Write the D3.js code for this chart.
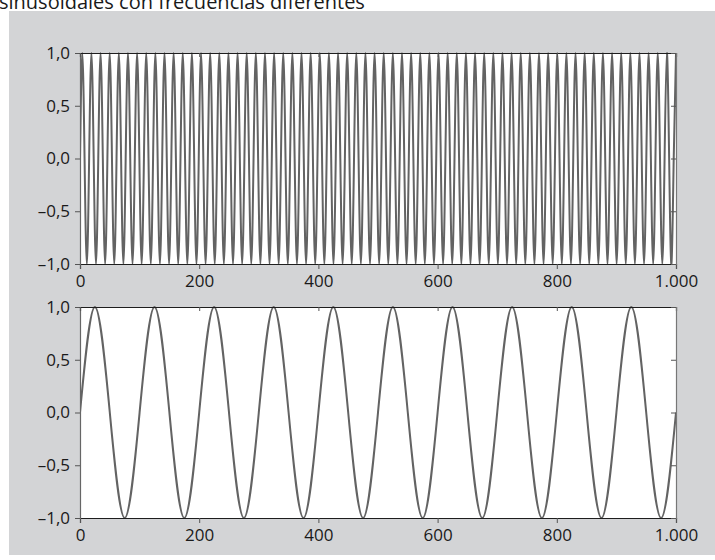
<!DOCTYPE html>
<html>
<head>
<meta charset="utf-8">
<script src="https://cdn.jsdelivr.net/npm/d3@7"></script>
<style>
  html, body { margin: 0; padding: 0; background: #ffffff; }
  svg { display: block; }
  text { font-family: "Open Sans", "Noto Sans", sans-serif; fill: #1a1a1a; }
</style>
</head>
<body>
<svg id="chart" width="715" height="560"></svg>
<script>
// Signal values at quarter-period nodes, spread evenly over samples 0..1000.
// Fast signal: 65¼ cycles.
const topWave = [
  0, 1, 0, -1, 0, 1, 0, -1, 0, 1, 0, -1, 0, 1, 0, -1, 0, 1, 0, -1,
  0, 1, 0, -1, 0, 1, 0, -1, 0, 1, 0, -1, 0, 1, 0, -1, 0, 1, 0, -1,
  0, 1, 0, -1, 0, 1, 0, -1, 0, 1, 0, -1, 0, 1, 0, -1, 0, 1, 0, -1,
  0, 1, 0, -1, 0, 1, 0, -1, 0, 1, 0, -1, 0, 1, 0, -1, 0, 1, 0, -1,
  0, 1, 0, -1, 0, 1, 0, -1, 0, 1, 0, -1, 0, 1, 0, -1, 0, 1, 0, -1,
  0, 1, 0, -1, 0, 1, 0, -1, 0, 1, 0, -1, 0, 1, 0, -1, 0, 1, 0, -1,
  0, 1, 0, -1, 0, 1, 0, -1, 0, 1, 0, -1, 0, 1, 0, -1, 0, 1, 0, -1,
  0, 1, 0, -1, 0, 1, 0, -1, 0, 1, 0, -1, 0, 1, 0, -1, 0, 1, 0, -1,
  0, 1, 0, -1, 0, 1, 0, -1, 0, 1, 0, -1, 0, 1, 0, -1, 0, 1, 0, -1,
  0, 1, 0, -1, 0, 1, 0, -1, 0, 1, 0, -1, 0, 1, 0, -1, 0, 1, 0, -1,
  0, 1, 0, -1, 0, 1, 0, -1, 0, 1, 0, -1, 0, 1, 0, -1, 0, 1, 0, -1,
  0, 1, 0, -1, 0, 1, 0, -1, 0, 1, 0, -1, 0, 1, 0, -1, 0, 1, 0, -1,
  0, 1, 0, -1, 0, 1, 0, -1, 0, 1, 0, -1, 0, 1, 0, -1, 0, 1, 0, -1,
  0, 1
];
// Slow signal: 10 cycles.
const bottomWave = [
  0, 1, 0, -1, 0, 1, 0, -1, 0, 1, 0, -1, 0, 1, 0, -1, 0, 1, 0, -1,
  0, 1, 0, -1, 0, 1, 0, -1, 0, 1, 0, -1, 0, 1, 0, -1, 0, 1, 0, -1,
  0
];
const sampleRange = [0, 1000];
const xTicks = [0, 200, 400, 600, 800, 1000];
const yTicks = [-1, -0.5, 0, 0.5, 1];
const titleText = "sinusoidales con frecuencias diferentes";

const locale = d3.formatLocale({
  decimal: ",", thousands: ".", grouping: [3], currency: ["", " €"], minus: "\u2013"
});
const fmtX = locale.format(",d");
const fmtY = locale.format(".1f");

const svg = d3.select("#chart");

// Caption line, partly above the top edge of the page
svg.append("text")
  .attr("x", -1).attr("y", 9)
  .style("font-size", "20px")
  .text(titleText);

svg.append("rect")
  .attr("x", 9).attr("y", 11).attr("width", 706).attr("height", 544)
  .attr("fill", "#d3d4d6");

const left = 80, right = 676;
const panels = [
  { wave: topWave, top: 53, bottom: 264 },
  { wave: bottomWave, top: 307, bottom: 518 }
];

panels.forEach(p => {
  const x = d3.scaleLinear().domain(sampleRange).range([left, right]);
  const y = d3.scaleLinear().domain([-1, 1]).range([p.bottom, p.top]);
  const nodeX = d3.scaleLinear().domain([0, p.wave.length - 1]).range(sampleRange);

  const g = svg.append("g");

  g.append("rect")
    .attr("x", left).attr("y", p.top)
    .attr("width", right - left).attr("height", p.bottom - p.top)
    .attr("fill", "#ffffff");

  const clipId = "clip" + p.top;
  svg.append("clipPath").attr("id", clipId)
    .append("rect")
    .attr("x", left).attr("y", p.top - 2)
    .attr("width", right - left).attr("height", p.bottom - p.top + 4);

  const line = d3.line()
    .x((d, i) => x(nodeX(i)))
    .y(d => y(d))
    .curve(d3.curveNatural);

  g.append("path")
    .datum(p.wave)
    .attr("clip-path", `url(#${clipId})`)
    .attr("fill", "none")
    .attr("stroke", "#636363")
    .attr("stroke-width", 2)
    .attr("d", line);

  // Outer axes (labelled)
  const ax = g.append("g")
    .attr("transform", `translate(0,${p.bottom})`)
    .call(d3.axisBottom(x).tickValues(xTicks).tickFormat(fmtX).tickSizeOuter(0).tickSize(5).tickPadding(6));
  const ay = g.append("g")
    .attr("transform", `translate(${left},0)`)
    .call(d3.axisLeft(y).tickValues(yTicks).tickFormat(fmtY).tickSizeOuter(0).tickSize(5).tickPadding(5));

  // Mirrored inner ticks on the top and right edges
  const at = g.append("g")
    .attr("transform", `translate(0,${p.top})`)
    .call(d3.axisBottom(x).tickValues(xTicks).tickFormat("").tickSizeOuter(0).tickSize(4));
  const ar = g.append("g")
    .attr("transform", `translate(${right},0)`)
    .call(d3.axisLeft(y).tickValues(yTicks).tickFormat("").tickSizeOuter(0).tickSize(5));

  [ax, ay, at, ar].forEach(a => {
    a.selectAll("text")
      .style("font-size", "17px")
      .attr("fill", "#1a1a1a")
      .style("font-family", "'Open Sans', 'Noto Sans', sans-serif");
    a.selectAll(".tick line").attr("stroke", "#555");
  });
  ax.select(".domain").attr("stroke", "#1e1e1e").attr("stroke-width", 1.2);
  at.select(".domain").attr("stroke", "#1e1e1e").attr("stroke-width", 1.2);
  ay.select(".domain").attr("stroke", "#666").attr("stroke-width", 1.2);
  ar.select(".domain").attr("stroke", "#777").attr("stroke-width", 1.2);
});
</script>
</body>
</html>
